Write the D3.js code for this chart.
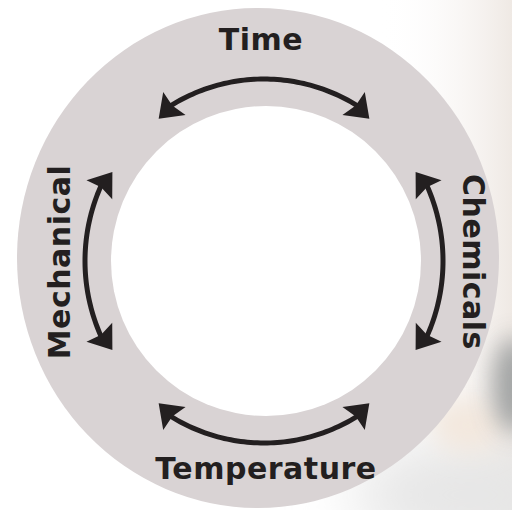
<!DOCTYPE html>
<html>
<head>
<meta charset="utf-8">
<script src="https://cdn.jsdelivr.net/npm/d3@7"></script>
<style>
  html, body { margin: 0; padding: 0; background: #ffffff; }
  svg { display: block; }
</style>
</head>
<body>
<script>
// ---- data ----
const labels = ["Time", "Chemicals", "Temperature", "Mechanical"];
const arrowCenters = [0, 90, 180, 270];     // degrees, 0 = up, clockwise
const arrowHalfSpans = [37, 30, 37, 30];    // degrees

// ---- layout ----
const W = 512, H = 510;
const ring = { cx: 258, cy: 258, rx: 241, ry: 250 };
const hole = { cx: 266, cy: 261, r: 155 };
const arrowGeom = { cx: 264, cy: 261, rx: 179, ry: 182, tipK: 0.978, headLen: 22, headHalf: 16, notch: 3, stroke: 5 };
const labelPos = [
  { x: 261, y: 50, rot: 0 },
  { x: 463, y: 262, rot: 90 },
  { x: 266, y: 479, rot: 0 },
  { x: 70, y: 262, rot: -90 }
];
const ink = "#231f20";

const svg = d3.select("body").append("svg").attr("width", W).attr("height", H);
const defs = svg.append("defs");

// background (blurred photo on the right)
defs.append("filter").attr("id", "blur").attr("x", "-80%").attr("y", "-80%").attr("width", "260%").attr("height", "260%")
  .append("feGaussianBlur").attr("stdDeviation", 12);
defs.append("filter").attr("id", "blur2").attr("x", "-50%").attr("y", "-50%").attr("width", "200%").attr("height", "200%")
  .append("feGaussianBlur").attr("stdDeviation", 30);
const lg = defs.append("linearGradient").attr("id", "bgRight").attr("x1", 0).attr("x2", 1).attr("y1", 0).attr("y2", 0);
lg.append("stop").attr("offset", "0%").attr("stop-color", "#ffffff").attr("stop-opacity", 0);
lg.append("stop").attr("offset", "100%").attr("stop-color", "#efe9e4").attr("stop-opacity", 1);

svg.append("rect").attr("width", W).attr("height", H).attr("fill", "#ffffff");
svg.append("rect").attr("x", 380).attr("y", 0).attr("width", 132).attr("height", H).attr("fill", "url(#bgRight)");
const bg = svg.append("g");
bg.append("ellipse").attr("cx", 470).attr("cy", 495).attr("rx", 120).attr("ry", 55).attr("fill", "#e6e6e6").attr("filter", "url(#blur2)");
bg.append("ellipse").attr("cx", 468).attr("cy", 425).attr("rx", 36).attr("ry", 26).attr("fill", "#f3e8de").attr("filter", "url(#blur)");
bg.append("ellipse").attr("cx", 514).attr("cy", 385).attr("rx", 22).attr("ry", 48).attr("fill", "#949899").attr("opacity", 0.85).attr("filter", "url(#blur)");

// ring
svg.append("ellipse").attr("cx", ring.cx).attr("cy", ring.cy).attr("rx", ring.rx).attr("ry", ring.ry).attr("fill", "#d9d3d4");
svg.append("circle").attr("cx", hole.cx).attr("cy", hole.cy).attr("r", hole.r).attr("fill", "#ffffff");

// arrows
const ang = d3.scaleLinear().domain([0, 360]).range([0, 2 * Math.PI]);
function P(deg, k) {
  const a = ang(deg);
  return [arrowGeom.cx + arrowGeom.rx * k * Math.sin(a), arrowGeom.cy - arrowGeom.ry * k * Math.cos(a)];
}
const line = d3.line();
const arrows = svg.append("g");
arrowCenters.forEach((c, i) => {
  const s = c - arrowHalfSpans[i], e = c + arrowHalfSpans[i];
  const dDeg = (arrowGeom.headLen / ((arrowGeom.rx + arrowGeom.ry) / 2)) * 180 / Math.PI;
  const a0 = s + dDeg * 0.7, a1 = e - dDeg * 0.7;
  const pts = d3.range(0, 61).map(j => P(a0 + (a1 - a0) * j / 60, 1));
  arrows.append("path").attr("d", line(pts)).attr("fill", "none").attr("stroke", ink).attr("stroke-width", arrowGeom.stroke);
  [[e, -1], [s, 1]].forEach(([end, sign]) => {
    const tip = P(end, arrowGeom.tipK);
    const base = P(end + sign * dDeg, 1);
    let dx = tip[0] - base[0], dy = tip[1] - base[1];
    const len = Math.hypot(dx, dy); dx /= len; dy /= len;
    const nx = -dy, ny = dx;
    const L = arrowGeom.headLen, Wd = arrowGeom.headHalf, nt = arrowGeom.notch;
    const bx = tip[0] - L * dx, by = tip[1] - L * dy;
    const poly = [
      tip,
      [bx + Wd * nx, by + Wd * ny],
      [bx + nt * dx, by + nt * dy],
      [bx - Wd * nx, by - Wd * ny]
    ];
    arrows.append("path").attr("d", line(poly) + "Z").attr("fill", ink);
  });
});

// labels
svg.append("g").selectAll("text").data(labels).join("text")
  .attr("transform", (d, i) => `translate(${labelPos[i].x},${labelPos[i].y}) rotate(${labelPos[i].rot})`)
  .attr("text-anchor", "middle")
  .attr("font-family", "'DejaVu Sans', sans-serif")
  .attr("font-weight", "bold")
  .attr("font-size", 30)
  .attr("letter-spacing", 0.5)
  .attr("fill", ink)
  .text(d => d);
</script>
</body>
</html>
